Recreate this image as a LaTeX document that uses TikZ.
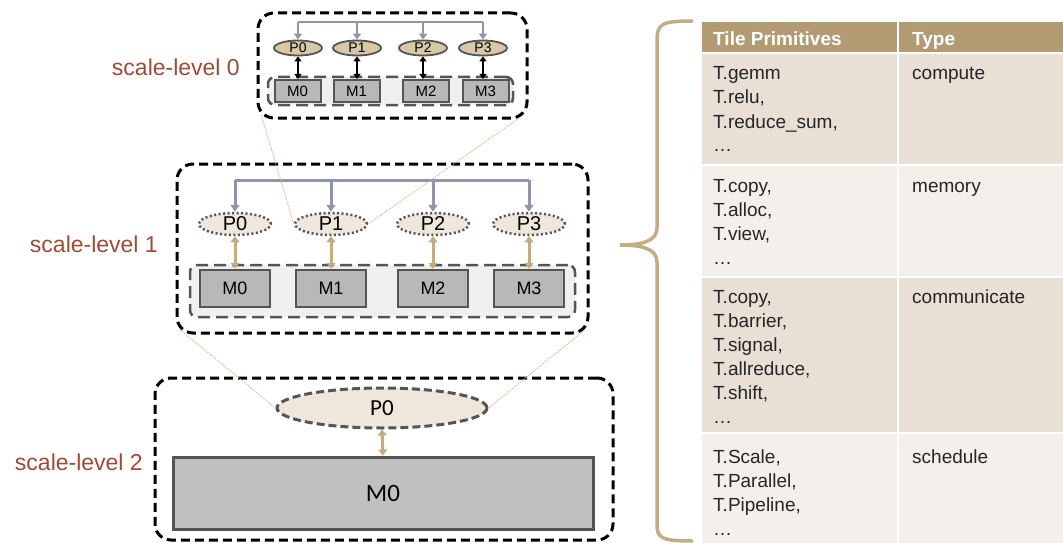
\documentclass[tikz,border=0pt]{standalone}
\usepackage{fontspec}
\setmainfont{Liberation Sans}
\newfontfamily\calfont{Carlito}
\usetikzlibrary{arrows.meta,calc,shapes.geometric}

\definecolor{lvlred}{HTML}{A04A35}
\definecolor{busblue}{HTML}{9194AA}
\definecolor{tanline}{HTML}{C8AA82}
\definecolor{linktan}{HTML}{CDB892}
\definecolor{ptan}{HTML}{D8C8A6}
\definecolor{pbeige}{HTML}{EEE7DC}
\definecolor{mgray}{HTML}{B8B8B8}
\definecolor{mgraylight}{HTML}{C0C0C0}
\definecolor{edgegray}{HTML}{555555}
\definecolor{rowfill}{HTML}{F0F0F0}
\definecolor{hdrtan}{HTML}{B29A72}
\definecolor{rowdark}{HTML}{E8DFD5}
\definecolor{rowlight}{HTML}{F3F0EC}
\definecolor{bracetan}{HTML}{C4AC86}

\newcommand{\fs}[1]{\fontsize{#1}{#1}\selectfont}
% multi-line cell text, anchored at the baseline of its first line
\newcommand{\celltext}[1]{\parbox[t]{175pt}{\fontsize{19}{24}\selectfont\raggedright #1}}

\tikzset{
  levelbox/.style={draw=black, line width=3pt, dash pattern=on 9pt off 5pt,
    rounded corners=16pt, inner sep=0pt},
  rowbox/.style={draw=edgegray, line width=2.5pt, dash pattern=on 12pt off 6pt,
    rounded corners=7pt, fill=rowfill, inner sep=0pt},
  levellabel/.style={text=lvlred, font=\fs{23}, anchor=base east, inner sep=0pt},
  % scale-level 0
  pzero/.style={ellipse, draw=edgegray, fill=ptan, line width=1.8pt,
    minimum width=48pt, minimum height=15pt, inner sep=0pt, font=\fs{14}},
  mzero/.style={draw=edgegray, fill=mgray, line width=2pt,
    minimum width=46pt, minimum height=22pt, inner sep=0pt, font=\fs{15}},
  % scale-level 1
  pone/.style={ellipse, draw=edgegray, fill=pbeige, line width=2.5pt,
    dash pattern=on 2pt off 2.5pt, minimum width=72pt, minimum height=22pt,
    inner sep=0pt, font=\fs{20}},
  mone/.style={draw=edgegray, fill=mgray, line width=2.5pt,
    minimum width=70pt, minimum height=37pt, inner sep=0pt, font=\fs{18}},
  % scale-level 2
  ptwo/.style={ellipse, draw=edgegray, fill=pbeige, line width=3pt,
    dash pattern=on 8pt off 4pt, minimum width=210pt, minimum height=40pt,
    inner sep=0pt, font=\calfont\fs{23}},
  mtwo/.style={draw=edgegray, fill=mgraylight, line width=3pt,
    minimum width=420pt, minimum height=72pt, inner sep=0pt, font=\calfont\fs{25}},
  busline/.style={draw=busblue, line width=3pt},
  busarrow/.style={draw=busblue, line width=3pt, -{Triangle[length=7pt,width=9pt]}},
  bussmall/.style={draw=busblue, line width=2.2pt, -{Triangle[length=6pt,width=8pt]}},
  blackpair/.style={draw=black, line width=1.8pt,
    {Triangle[length=5pt,width=7pt]}-{Triangle[length=5pt,width=7pt]}},
  tanpair/.style={draw=tanline, line width=3pt,
    {Triangle[length=6pt,width=9pt]}-{Triangle[length=6pt,width=9pt]}},
  zoomlink/.style={draw=linktan, line width=0.8pt, dash pattern=on 1.5pt off 1pt},
  cell/.style={anchor=base west, inner sep=0pt, font=\fs{19}, text=black!85},
  hdr/.style={anchor=base west, inner sep=0pt, font=\bfseries\fs{19}, text=white},
}

\begin{document}
\begin{tikzpicture}[x=1pt,y=-1pt]
\useasboundingbox (0,0) rectangle (1063,543);

% ---------- scale-level 0 ----------
\node[levelbox, minimum width=269pt, minimum height=105pt] (L0) at (392.5,65.5) {};
\node[rowbox, minimum width=245pt, minimum height=28pt] (R0) at (390.5,91) {};
\node[levellabel] (lab0) at (240,75) {scale-level 0};
\foreach \i/\px/\mx in {0/298/297.5, 1/357/356.5, 2/423/426, 3/483/485.5} {
  \node[pzero] (P0\i) at (\px,48) {P\i};
  \node[mzero] (M0\i) at (\mx,91) {M\i};
  \draw[blackpair] (P0\i.south) -- (P0\i.south |- M0\i.north);
}
\coordinate (bus0a) at (298,22);
\coordinate (bus0b) at (483,22);
\draw[busline, line width=2.2pt] (bus0a) -- (bus0b);
\foreach \i in {0,...,3}
  \draw[bussmall] (P0\i.north |- bus0a) -- (P0\i.north);

% ---------- scale-level 1 ----------
\node[levelbox, minimum width=411pt, minimum height=169pt] (L1) at (382.5,248.5) {};
\node[rowbox, minimum width=385pt, minimum height=52pt] (R1) at (382.5,291) {};
\node[levellabel] (lab1) at (158,252) {scale-level 1};
\foreach \i/\px in {0/235, 1/331, 2/433, 3/529} {
  \node[pone] (P1\i) at (\px,224) {P\i};
  \node[mone] (M1\i) at (\px,288.5) {M\i};
  \draw[tanpair] (P1\i.south) -- (M1\i.north);
}
\coordinate (bus1a) at (235,180);
\coordinate (bus1b) at (529,180);
\draw[busline] (bus1a) -- (bus1b);
\foreach \i in {0,...,3}
  \draw[busarrow] (P1\i.north |- bus1a) -- (P1\i.north);

% ---------- scale-level 2 ----------
\node[levelbox, minimum width=458pt, minimum height=162pt] (L2) at (384,459) {};
\node[levellabel] (lab2) at (143,470) {scale-level 2};
\node[ptwo] (P20) at (382,408) {P0};
\node[mtwo] (M20) at (383,493) {M0};
\draw[tanpair] (P20.south) -- (M20.north);

% ---------- zoom links between levels ----------
\coordinate (L0sw) at ($(L0.south west)+(4.7,-4.7)$);
\coordinate (L0se) at ($(L0.south east)+(-4.7,-4.7)$);
\coordinate (L1sw) at ($(L1.south west)+(4.7,-4.7)$);
\coordinate (L1se) at ($(L1.south east)+(-4.7,-4.7)$);
\draw[zoomlink] (L0sw) -- (P11.west);
\draw[zoomlink] (L0se) -- (P11.east);
\draw[zoomlink] (L1sw) -- (P20.west);
\draw[zoomlink] (L1se) -- (P20.east);

% ---------- primitives table ----------
\fill[hdrtan] (702,22) rectangle (1063,53);
\fill[rowdark] (702,53) rectangle (1063,165);
\fill[rowlight] (702,165) rectangle (1063,277);
\fill[rowdark] (702,277) rectangle (1063,433);
\fill[rowlight] (702,433) rectangle (1063,543);
\draw[white, line width=2pt] (898,22) -- (898,543);
\foreach \y in {53,165,277,433}
  \draw[white, line width=2pt] (702,\y) -- (1063,\y);

\node[hdr] (h1) at (713,46) {Tile Primitives};
\node[hdr] (h2) at (912,46) {Type};

\node[cell] (c1) at (713,80) {\celltext{T.gemm\\T.relu,\\T.reduce\_sum,\\\dots}};
\node[cell] (t1) at (912,80) {compute};
\node[cell] (c2) at (713,192) {\celltext{T.copy,\\T.alloc,\\T.view,\\\dots}};
\node[cell] (t2) at (912,192) {memory};
\node[cell] (c3) at (713,303) {\celltext{T.copy,\\T.barrier,\\T.signal,\\T.allreduce,\\T.shift,\\\dots}};
\node[cell] (t3) at (912,303) {communicate};
\node[cell] (c4) at (713,463) {\celltext{T.Scale,\\T.Parallel,\\T.Pipeline,\\\dots}};
\node[cell] (t4) at (912,463) {schedule};

% ---------- brace ----------
\coordinate (brTop) at (692,21);
\coordinate (brTip) at (620,245);
\coordinate (brBot) at (692,541);
\draw[bracetan, line width=3.5pt, line cap=round]
  (brTop) .. controls (662,21) and (657,24) .. (657,40) -- (657,228)
  .. controls (657,242) and (640,245) .. (brTip)
  .. controls (640,245) and (657,248) .. (657,262) -- (657,525)
  .. controls (657,538) and (662,541) .. (brBot);
\end{tikzpicture}
\end{document}
